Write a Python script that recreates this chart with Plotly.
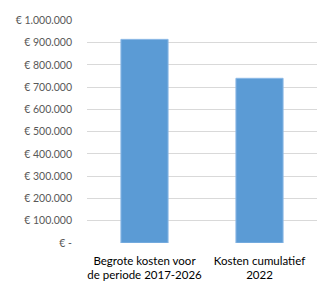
import plotly.graph_objects as go

categories = ["Begrote kosten voor<br>de periode 2017-2026", "Kosten cumulatief<br>2022"]
values = [915000, 740000]
tick_vals = [0, 100000, 200000, 300000, 400000, 500000, 600000, 700000, 800000, 900000, 1000000]
tick_text = ["€ -", "€ 100.000", "€ 200.000", "€ 300.000", "€ 400.000", "€ 500.000",
             "€ 600.000", "€ 700.000", "€ 800.000", "€ 900.000", "€ 1.000.000"]

fig = go.Figure(go.Bar(
    x=categories, y=values,
    marker=dict(color="#5B9BD5", line=dict(color="#8DB9E6", width=1)),
    width=0.41,
    cliponaxis=False,
))
fig.update_layout(
    width=318, height=283,
    margin=dict(l=87, r=1, t=20, b=40, autoexpand=False),
    paper_bgcolor="white", plot_bgcolor="white",
    font=dict(family="Lato, Liberation Sans, sans-serif", size=11, color="#404040"),
    showlegend=False,
)
fig.update_yaxes(
    range=[0, 1002000], tickvals=tick_vals, ticktext=tick_text,
    showgrid=True, gridcolor="#D9D9D9", gridwidth=1,
    zeroline=False, showline=False,
    ticklabelstandoff=14, automargin=False,
    tickfont=dict(size=10.5, color="#595959"),
)
fig.update_xaxes(
    showline=False, showgrid=False, automargin=False,
    tickfont=dict(size=11.5, color="#000000"),
    ticklabelstandoff=9,
)
fig.write_html("out.html", post_script="document.body.style.margin='0';",
               config={"displayModeBar": False})
